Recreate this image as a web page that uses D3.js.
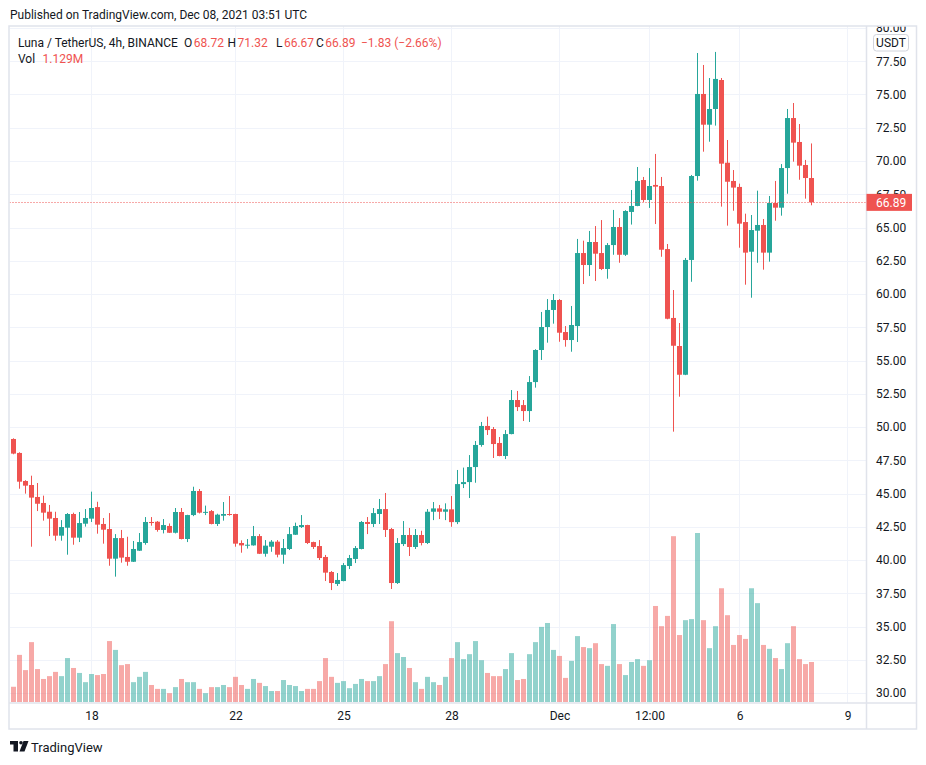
<!DOCTYPE html>
<html>
<head>
<meta charset="utf-8">
<script src="https://cdn.jsdelivr.net/npm/d3@7"></script>
<style>
  body { margin: 0; background: #fff; }
  text { font-family: Roboto, "Noto Sans", sans-serif; }
</style>
</head>
<body>
<div id="container"></div>
<script>
const width = 926,
  height = 765,
  pane = {left: 9.5, right: 866.5, top: 26, bottom: 703},
  timeAxisBottom = 729,
  frameRight = 916.5,
  step = 6,
  firstX = 13.5,
  bodyWidth = 5;

const green = "#26a69a", red = "#ef5350";

// 4h candles, first one Nov 15 2021 20:00 UTC
const startTime = Date.UTC(2021, 10, 15, 20);
const candleMs = 4 * 3600 * 1000;

const opens = [
  49.10, 48.05, 45.94, 45.64, 44.74, 44.29, 43.63, 43.16, 41.83, 42.43,
  43.46, 41.68, 42.73, 43.11, 43.98, 42.71, 42.33, 40.10, 41.65, 40.23,
  39.87, 40.70, 41.28, 42.86, 42.88, 42.26, 42.56, 42.05, 43.61, 41.58,
  43.38, 45.19, 43.56, 43.68, 42.71, 43.33, 43.46, 43.46, 41.28, 41.10,
  41.10, 41.80, 40.47, 41.00, 41.38, 40.40, 40.83, 41.90, 42.48, 42.63,
  41.35, 41.05, 40.23, 39.10, 38.20, 38.42, 39.55, 40.08, 40.83, 42.86,
  42.71, 43.46, 43.83, 42.33, 38.27, 41.20, 41.88, 40.98, 41.88, 41.28,
  43.63, 43.88, 43.63, 43.81, 42.85, 45.71, 45.86, 46.99, 48.65, 50.08,
  49.85, 48.80, 47.82, 49.47, 52.03, 51.65, 51.20, 53.38, 55.79, 57.52,
  58.80, 59.55, 57.14, 56.54, 57.59, 63.08, 62.18, 63.91, 63.08, 61.88,
  63.68, 65.04, 62.95, 66.17, 66.62, 68.57, 67.07, 68.20, 68.12, 63.38,
  58.20, 56.09, 53.93, 62.56, 68.87, 75.04, 72.73, 73.91, 76.09, 69.87,
  68.50, 68.05, 65.41, 63.18, 64.76, 65.19, 63.11, 66.84, 66.49, 69.47,
  73.23, 71.43, 69.70, 68.72
];
const highs = [
  49.15, 48.10, 46.00, 46.34, 45.79, 44.84, 44.14, 43.63, 43.00, 43.53,
  43.56, 43.61, 43.83, 45.14, 44.38, 43.16, 43.53, 41.95, 42.26, 41.75,
  41.43, 42.03, 43.23, 43.23, 42.93, 43.08, 42.75, 43.91, 43.91, 43.40,
  45.51, 45.34, 44.09, 43.76, 43.48, 44.36, 44.81, 43.48, 41.48, 41.58,
  42.56, 41.95, 41.50, 41.50, 41.50, 41.58, 42.48, 42.81, 43.38, 42.65,
  41.38, 41.50, 40.38, 39.17, 39.02, 39.77, 40.38, 41.05, 42.93, 43.23,
  43.91, 44.59, 45.04, 42.41, 41.65, 42.93, 42.41, 42.33, 42.20, 43.83,
  44.36, 44.14, 44.26, 44.81, 46.77, 46.95, 47.89, 48.95, 50.38, 50.78,
  50.00, 49.25, 49.77, 52.78, 52.71, 52.03, 53.83, 55.85, 58.65, 59.62,
  60.00, 59.62, 57.59, 59.10, 64.14, 64.01, 64.74, 65.11, 65.56, 63.83,
  66.32, 65.71, 66.30, 67.82, 69.55, 68.80, 69.47, 70.53, 68.80, 63.76,
  60.30, 57.82, 62.71, 68.95, 78.12, 77.22, 76.24, 78.20, 76.24, 71.58,
  69.32, 68.30, 66.04, 65.94, 67.77, 65.64, 67.37, 68.50, 69.77, 73.91,
  74.36, 72.78, 70.08, 71.32
];
const lows = [
  47.95, 45.36, 44.99, 41.00, 43.68, 42.96, 41.80, 41.45, 41.45, 40.40,
  41.15, 41.35, 42.51, 42.86, 41.98, 41.23, 39.57, 38.75, 39.80, 39.57,
  39.85, 40.68, 41.15, 42.58, 42.13, 42.00, 42.03, 42.00, 41.55, 41.35,
  43.30, 43.50, 43.38, 42.68, 42.56, 42.96, 43.33, 41.00, 40.55, 40.86,
  41.08, 40.45, 40.25, 40.62, 40.20, 39.72, 40.75, 41.88, 42.41, 41.20,
  40.83, 40.00, 38.42, 37.74, 38.05, 38.40, 39.32, 39.77, 40.80, 41.95,
  42.48, 42.71, 41.73, 37.82, 38.20, 41.05, 40.30, 40.83, 41.10, 41.20,
  43.00, 43.08, 43.00, 42.50, 42.70, 45.41, 44.66, 45.81, 48.52, 49.40,
  47.67, 47.80, 47.59, 49.45, 51.20, 50.45, 50.38, 52.96, 55.04, 56.34,
  57.77, 56.41, 56.04, 55.66, 56.39, 60.75, 61.35, 60.98, 61.80, 61.15,
  62.95, 62.35, 62.86, 65.22, 66.60, 66.92, 66.47, 65.26, 62.80, 58.10,
  49.65, 52.28, 53.90, 60.92, 68.52, 70.70, 71.45, 72.66, 66.57, 65.14,
  66.26, 63.48, 60.70, 59.72, 62.35, 61.83, 62.43, 65.51, 65.89, 67.54,
  69.95, 68.59, 67.17, 66.67
];
const closes = [
  48.00, 45.89, 45.59, 44.69, 44.23, 43.56, 43.11, 41.83, 42.48, 43.46,
  41.68, 42.78, 43.16, 43.91, 42.66, 42.28, 40.10, 41.65, 40.18, 39.87,
  40.83, 41.35, 42.86, 42.78, 42.26, 42.63, 42.05, 43.61, 41.58, 43.38,
  45.19, 43.56, 43.62, 42.71, 43.41, 43.46, 43.41, 41.23, 41.10, 41.15,
  41.80, 40.47, 41.08, 41.38, 40.40, 40.90, 41.95, 42.56, 42.63, 41.28,
  40.98, 40.15, 39.05, 38.27, 38.50, 39.62, 40.15, 40.90, 42.86, 42.71,
  43.53, 43.83, 42.26, 38.27, 41.28, 41.88, 40.98, 41.88, 41.28, 43.63,
  43.88, 43.63, 43.81, 42.85, 45.71, 45.86, 46.99, 48.65, 50.08, 49.77,
  48.72, 47.82, 49.47, 52.03, 51.50, 51.20, 53.38, 55.79, 57.52, 58.80,
  59.55, 57.09, 56.54, 57.67, 63.08, 62.18, 63.91, 63.03, 61.88, 63.68,
  65.04, 62.95, 66.24, 66.62, 68.50, 67.07, 68.12, 68.07, 63.33, 58.14,
  56.11, 53.93, 62.56, 68.87, 75.04, 72.73, 73.91, 76.17, 69.80, 68.44,
  68.00, 65.29, 63.11, 64.81, 65.19, 63.11, 66.84, 66.49, 69.47, 73.23,
  71.38, 69.65, 68.72, 66.89
];
// volume in millions
const volumes = [
  0.43, 1.33, 0.90, 1.69, 0.93, 0.65, 0.73, 0.85, 0.73, 1.24,
  0.96, 0.82, 0.56, 0.79, 0.76, 0.79, 1.72, 1.47, 1.04, 1.07,
  0.56, 0.71, 0.85, 0.48, 0.37, 0.37, 0.25, 0.42, 0.65, 0.56,
  0.56, 0.37, 0.25, 0.42, 0.42, 0.48, 0.42, 0.71, 0.48, 0.37,
  0.65, 0.54, 0.45, 0.31, 0.31, 0.62, 0.48, 0.45, 0.31, 0.37,
  0.37, 0.59, 1.24, 0.71, 0.54, 0.59, 0.39, 0.51, 0.65, 0.59,
  0.59, 0.73, 1.07, 2.28, 1.38, 1.27, 0.96, 0.56, 0.37, 0.71,
  0.56, 0.48, 0.71, 1.24, 1.69, 1.21, 1.35, 1.72, 1.18, 0.82,
  0.73, 0.73, 0.93, 1.38, 0.62, 0.65, 1.35, 1.69, 2.12, 2.23,
  1.47, 1.30, 0.68, 1.16, 1.86, 1.55, 1.52, 1.66, 1.07, 1.02,
  2.20, 1.07, 0.76, 1.13, 1.21, 1.02, 1.18, 2.71, 2.14, 2.43,
  4.68, 1.89, 2.31, 2.34, 4.77, 2.31, 1.52, 2.14, 3.21, 2.45,
  1.61, 1.89, 1.78, 3.21, 2.79, 1.61, 1.50, 1.24, 0.93, 1.66,
  2.14, 1.21, 1.07, 1.129
];

const priceTicks = [30, 32.5, 35, 37.5, 40, 42.5, 45, 47.5, 50, 52.5, 55, 57.5,
  60, 62.5, 65, 67.5, 70, 72.5, 75, 77.5, 80];
const timeTicks = [
  Date.UTC(2021, 10, 18), Date.UTC(2021, 10, 22), Date.UTC(2021, 10, 25),
  Date.UTC(2021, 10, 28), Date.UTC(2021, 11, 1), Date.UTC(2021, 11, 3, 12),
  Date.UTC(2021, 11, 6), Date.UTC(2021, 11, 9)
];
const timeLabels = ["18", "22", "25", "28", "Dec", "12:00", "6", "9"];

let svg, xScale, yScale, volScale;

const candles = opens.map((o, i) => ({
  time: new Date(startTime + i * candleMs),
  open: o, high: highs[i], low: lows[i], close: closes[i], volume: volumes[i]
}));
const last = candles[candles.length - 1];

init();

function init() {
  xScale = d3.scaleTime()
    .domain([
      new Date(startTime - (firstX - pane.left) / step * candleMs),
      new Date(startTime + (pane.right - firstX) / step * candleMs)
    ])
    .range([pane.left, pane.right]);

  yScale = d3.scaleLinear()
    .domain([29.25, 80.15])
    .range([pane.bottom, pane.top]);

  volScale = d3.scaleLinear()
    .domain([0, d3.max(volumes)])
    .range([702, 533]);

  svg = d3.select("#container")
    .append("svg")
    .attr("width", width)
    .attr("height", height)
    .style("display", "block");

  const defs = svg.append("defs");
  defs.append("clipPath").attr("id", "paneClip")
    .append("rect")
    .attr("x", pane.left).attr("y", pane.top)
    .attr("width", pane.right - pane.left).attr("height", pane.bottom - pane.top);
  defs.append("clipPath").attr("id", "priceAxisClip")
    .append("rect")
    .attr("x", pane.right).attr("y", pane.top)
    .attr("width", frameRight - pane.right).attr("height", pane.bottom - pane.top);

  // header
  svg.append("text")
    .attr("x", 10).attr("y", 19)
    .attr("font-size", 12).attr("fill", "#131722")
    .text("Published on TradingView.com, Dec 08, 2021 03:51 UTC");

  // grid
  const grid = svg.append("g").attr("clip-path", "url(#paneClip)");
  grid.selectAll("line.h")
    .data(priceTicks)
    .join("line")
    .attr("class", "h")
    .attr("x1", pane.left).attr("x2", pane.right)
    .attr("y1", d => Math.round(yScale(d)) + 0.5)
    .attr("y2", d => Math.round(yScale(d)) + 0.5)
    .attr("stroke", "#f0f3fa");
  grid.selectAll("line.v")
    .data(timeTicks)
    .join("line")
    .attr("class", "v")
    .attr("x1", d => Math.floor(xScale(d)) + 0.5)
    .attr("x2", d => Math.floor(xScale(d)) + 0.5)
    .attr("y1", pane.top).attr("y2", pane.bottom)
    .attr("stroke", "#f0f3fa");

  draw();
  drawAxes();
  drawLegend();
}

function draw() {
  const plot = svg.append("g").attr("clip-path", "url(#paneClip)");

  plot.selectAll("rect.vol")
    .data(candles)
    .join("rect")
    .attr("class", "vol")
    .attr("x", d => xScale(d.time) - bodyWidth / 2)
    .attr("width", bodyWidth)
    .attr("y", d => volScale(d.volume))
    .attr("height", d => volScale(0) - volScale(d.volume))
    .attr("fill", d => d.close >= d.open ? green : red)
    .attr("fill-opacity", 0.5);

  const candle = plot.selectAll("g.candle")
    .data(candles)
    .join("g")
    .attr("class", "candle")
    .attr("fill", d => d.close >= d.open ? green : red)
    .attr("stroke", d => d.close >= d.open ? green : red);

  candle.append("line")
    .attr("x1", d => xScale(d.time))
    .attr("x2", d => xScale(d.time))
    .attr("y1", d => yScale(d.high))
    .attr("y2", d => yScale(d.low))
    .attr("stroke-width", 1);

  candle.append("rect")
    .attr("stroke", "none")
    .attr("x", d => xScale(d.time) - bodyWidth / 2)
    .attr("width", bodyWidth)
    .attr("y", d => yScale(Math.max(d.open, d.close)))
    .attr("height", d => Math.max(1, Math.abs(yScale(d.open) - yScale(d.close))));

  // last price line
  plot.append("line")
    .attr("x1", pane.left).attr("x2", pane.right)
    .attr("y1", Math.round(yScale(last.close)) + 0.5)
    .attr("y2", Math.round(yScale(last.close)) + 0.5)
    .attr("stroke", red)
    .attr("stroke-dasharray", "1,2");
}

function drawAxes() {
  const yAxis = d3.axisRight(yScale)
    .tickValues(priceTicks)
    .tickFormat(d3.format(".2f"))
    .tickSize(0)
    .tickPadding(9.5);

  const yAxisGroup = svg.append("g")
    .attr("class", "yAxis")
    .attr("clip-path", "url(#priceAxisClip)")
    .append("g")
    .attr("transform", `translate(${pane.right},0)`)
    .call(yAxis);
  yAxisGroup.select(".domain").remove();
  yAxisGroup.selectAll("text")
    .attr("font-family", "Roboto, sans-serif")
    .attr("font-size", 12)
    .attr("fill", "#131722");

  const xAxis = d3.axisBottom(xScale)
    .tickValues(timeTicks.map(d => new Date(d)))
    .tickFormat((d, i) => timeLabels[i])
    .tickSize(0)
    .tickPadding(8);

  const xAxisGroup = svg.append("g")
    .attr("class", "xAxis")
    .attr("transform", `translate(0,${pane.bottom})`)
    .call(xAxis);
  xAxisGroup.select(".domain").remove();
  xAxisGroup.selectAll("text")
    .attr("font-family", "Roboto, sans-serif")
    .attr("font-size", 12)
    .attr("fill", "#131722");

  // frame and separators
  const frame = svg.append("g")
    .attr("fill", "none")
    .attr("stroke", "#e0e3eb")
    .attr("stroke-width", 1.5);
  frame.append("rect")
    .attr("x", 9).attr("y", pane.top)
    .attr("width", frameRight - 9).attr("height", timeAxisBottom - pane.top);
  frame.append("line")
    .attr("x1", pane.right).attr("x2", pane.right)
    .attr("y1", pane.top).attr("y2", timeAxisBottom);
  frame.append("line")
    .attr("x1", 9).attr("x2", frameRight)
    .attr("y1", pane.bottom).attr("y2", pane.bottom);

  // currency badge
  svg.append("rect")
    .attr("x", 873.5).attr("y", 34.5)
    .attr("width", 35).attr("height", 16.5)
    .attr("rx", 3)
    .attr("fill", "#fff")
    .attr("stroke", "#d1d4dc");
  svg.append("text")
    .attr("x", 891).attr("y", 46.8)
    .attr("text-anchor", "middle")
    .attr("font-size", 12).attr("fill", "#131722")
    .text("USDT");

  // last price label (covers the 67.50 tick like the original)
  const ly = yScale(last.close);
  svg.append("rect")
    .attr("x", pane.right).attr("y", ly - 8.5)
    .attr("width", 45.5).attr("height", 17)
    .attr("fill", red);
  svg.append("text")
    .attr("x", 876).attr("y", ly + 4.3)
    .attr("font-size", 12).attr("fill", "#fff")
    .text(d3.format(".2f")(last.close));
}

function drawLegend() {
  const prevClose = closes[closes.length - 2];
  const diff = last.close - prevClose;
  const pct = diff / prevClose * 100;
  const fmt = d3.format(".2f");
  const signed = v => (v < 0 ? "\u2212" : "+") + fmt(Math.abs(v));

  const legend = svg.append("text")
    .attr("y", 46.5)
    .attr("font-size", 12)
    .attr("fill", "#131722");
  legend.append("tspan").attr("x", 18).text("Luna / TetherUS, 4h, BINANCE");
  const parts = [
    {label: "O", lx: 184, value: fmt(last.open)},
    {label: "H", lx: 227.5, value: fmt(last.high)},
    {label: "L", lx: 276, value: fmt(last.low)},
    {label: "C", lx: 316, value: fmt(last.close)}
  ];
  parts.forEach(p => {
    legend.append("tspan").attr("x", p.lx).text(p.label);
    legend.append("tspan").attr("dx", 1.5).attr("fill", red).text(p.value);
  });
  legend.append("tspan").attr("x", 361).attr("fill", red)
    .text(`${signed(diff)} (${signed(pct)}%)`);

  const vol = svg.append("text")
    .attr("y", 63)
    .attr("font-size", 12)
    .attr("fill", "#131722");
  vol.append("tspan").attr("x", 18).text("Vol");
  vol.append("tspan").attr("x", 42.5).attr("fill", red).text(d3.format(".3f")(last.volume) + "M");

  // footer logo
  const logo = svg.append("g").attr("fill", "#131722");
  logo.append("rect").attr("x", 10).attr("y", 741).attr("width", 8).attr("height", 3.5);
  logo.append("rect").attr("x", 13.5).attr("y", 741).attr("width", 4.5).attr("height", 10.5);
  logo.append("circle").attr("cx", 21).attr("cy", 742.8).attr("r", 1.8);
  logo.append("path").attr("d", "M23.5,741 L28.5,741 L24.5,751.5 L19.5,751.5 Z");
  svg.append("text")
    .attr("x", 31).attr("y", 751.5)
    .attr("font-size", 13)
    .attr("fill", "#131722")
    .text("TradingView");
}
</script>
</body>
</html>
